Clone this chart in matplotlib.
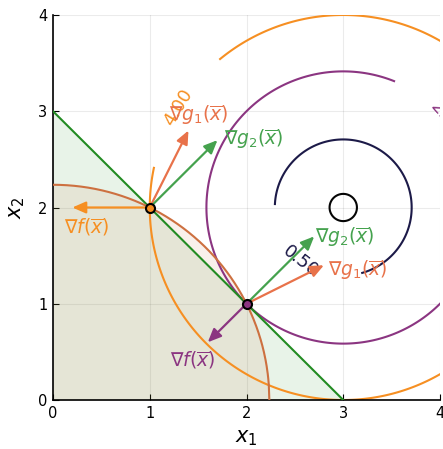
import numpy as np
import matplotlib
matplotlib.use('Agg')
import matplotlib.pyplot as plt

# ---- data ----
ticks = [0, 1, 2, 3, 4]
f_center_x, f_center_y = 3.0, 2.0
contour_levels = [0.02, 0.5, 2.0, 4.0]
g1_rhs = 5.0          # x1^2 + x2^2 <= 5
g2_rhs = 3.0          # x1 + x2 <= 3

points_x = [1.0, 2.0]
points_y = [2.0, 1.0]
grad_f = [(-0.8, 0.0), (-0.4, -0.4)]
grad_g1 = [(0.4, 0.8), (0.8, 0.4)]
grad_g2 = [(0.7, 0.7), (0.7, 0.7)]

# ---- styles / positions ----
contour_colors = ['#050505', '#1c1a48', '#8b3581', '#f68f22']
label_positions = [(2.553, 1.434), (4.06, 2.92), (1.292, 3.034)]
point_colors = ['#f68f22', '#8b3581']
f_colors = ['#f68f22', '#8b3581']
g1_color = '#e8724a'
g2_color = '#45a24e'
line_g2_color = '#228b22'
line_g1_color = '#cd7040'

f_label_pos = [(0.35, 1.80), (1.44, 0.41)]
g1_label_pos = [(1.51, 2.96), (3.15, 1.35)]
g2_label_pos = [(2.07, 2.71), (3.02, 1.69)]

fig = plt.figure(figsize=(4.43, 4.49), dpi=100)
ax = fig.add_axes([53/443, 49/449, 387/443, 385/449])
ax.set_xlim(0, 4)
ax.set_ylim(0, 4)

# feasible sets
xs = np.linspace(0, g2_rhs, 200)
ax.fill_between(xs, 0, g2_rhs - xs, color=line_g2_color, alpha=0.1, lw=0, zorder=1)
r = np.sqrt(g1_rhs)
xc = np.linspace(0, r, 400)
yc = np.sqrt(np.clip(g1_rhs - xc**2, 0, None))
ax.fill_between(xc, 0, yc, color=line_g1_color, alpha=0.1, lw=0, zorder=1)
ax.plot(xs, g2_rhs - xs, color=line_g2_color, lw=1.5, zorder=3)
ax.plot(xc, yc, color=line_g1_color, lw=1.5, zorder=3)

# objective contours
gx = np.linspace(-0.2, 4.6, 700)
X, Y = np.meshgrid(gx, gx)
F = (X - f_center_x)**2 + (Y - f_center_y)**2
cs = ax.contour(X, Y, F, levels=contour_levels, colors=contour_colors,
                linewidths=1.5, zorder=2)
cl = ax.clabel(cs, manual=label_positions, inline=True,
               inline_spacing=44, fmt='%.2f', fontsize=13)
for t in cl:
    t.set_clip_on(True)

# arrows
def arrow(p, v, c):
    ax.annotate('', xy=(p[0] + v[0], p[1] + v[1]), xytext=p,
                arrowprops=dict(arrowstyle='-|>,head_length=0.8,head_width=0.35',
                                color=c, lw=1.6, shrinkA=0, shrinkB=0,
                                mutation_scale=10), zorder=4)

for i in range(2):
    p = (points_x[i], points_y[i])
    arrow(p, grad_f[i], f_colors[i])
    arrow(p, grad_g1[i], g1_color)
    arrow(p, grad_g2[i], g2_color)
    ax.text(*f_label_pos[i], r'$\nabla f(\overline{x})$', color=f_colors[i],
            fontsize=13.5, ha='center', va='center', zorder=6)
    ax.text(*g1_label_pos[i], r'$\nabla g_1(\overline{x})$', color=g1_color,
            fontsize=13.5, ha='center', va='center', zorder=6)
    ax.text(*g2_label_pos[i], r'$\nabla g_2(\overline{x})$', color=g2_color,
            fontsize=13.5, ha='center', va='center', zorder=6)

for i in range(2):
    ax.plot(points_x[i], points_y[i], 'o', ms=6.5, mfc=point_colors[i],
            mec='black', mew=1.5, zorder=7)

ax.set_xticks(ticks)
ax.set_yticks(ticks)
ax.grid(True, color='#000000', alpha=0.08, lw=0.8)
ax.set_axisbelow(True)
ax.tick_params(direction='in', length=4, width=0.8, labelsize=10.5, pad=4)
for s in ['top', 'right']:
    ax.spines[s].set_visible(False)
for s in ['left', 'bottom']:
    ax.spines[s].set_linewidth(1.2)
ax.set_xlabel(r'$x_1$', fontsize=15, labelpad=5)
ax.set_ylabel(r'$x_2$', fontsize=15, labelpad=8)

fig.savefig('out.png', dpi=100)
